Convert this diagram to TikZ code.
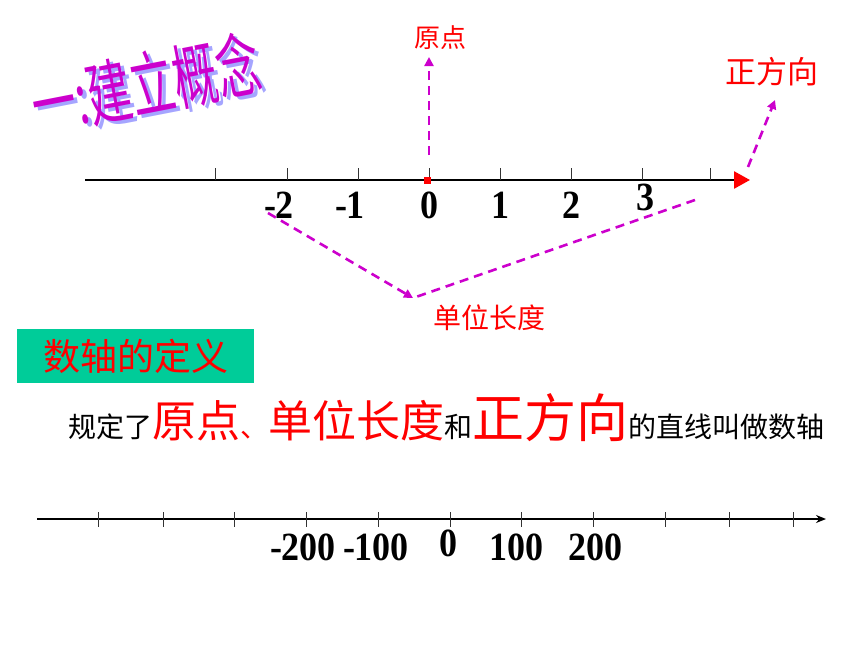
\documentclass[tikz,border=0pt]{standalone}
\usepackage{fontspec}
\setmainfont{Liberation Serif}
\newfontfamily\cjkfont{Noto Sans CJK SC}
\usepackage{xcolor}
\usepackage{tikz}
\usetikzlibrary{arrows.meta}

\definecolor{hintmag}{RGB}{204,0,204}
\definecolor{artpurple}{RGB}{204,0,204}
\definecolor{artshadow}{RGB}{165,165,255}
\definecolor{defgreen}{RGB}{0,204,153}
\newcommand{\zh}[1]{\cjkfont\fontsize{#1}{#1}\selectfont}

\begin{document}
\begin{tikzpicture}[
    x=1pt, y=-1pt,
    tick/.style={line width=1pt, black!80},
    numlbl/.style={font=\bfseries\fontsize{40}{40}\selectfont, xscale=0.9, inner sep=0pt},
    redlbl/.style={text=red, inner sep=0pt},
    hint/.style={hintmag, line width=2.6pt, dash pattern=on 9pt off 6pt, -{Triangle[length=9pt,width=9pt]}},
    wordart/.style={font=\zh{44}, rotate=11, yscale=1.6, inner sep=0pt}
]
    \useasboundingbox (0,0) rectangle (860,645);

    % --- Title ---
    \node[wordart, text=artshadow] (titleshadow) at (150,87) {一:建立概念};
    \node[wordart, text=artpurple] (title) at (146,84) {一:建立概念};

    % --- Top number line ---
    \coordinate (axL) at (85,180);
    \coordinate (axR) at (750,180);
    \draw[line width=2.6pt, -{Triangle[length=16pt,width=17pt,color=red]}] (axL) -- (axR);
    \foreach \x in {215,287,358,429,500,571,642,710}
        \draw[tick] (\x,168) -- (\x,180);
    \node[fill=red, minimum size=7pt, inner sep=0pt] (orig) at (427,180.5) {};

    \foreach \x/\t/\n in {279/-2/a, 350/-1/b, 429/0/c, 500/1/d, 571/2/e}
        \node[numlbl] (top\n) at (\x,205) {\t};
    \node[numlbl] (topf) at (645,197) {3};

    % --- Hints ---
    \node[redlbl, font=\zh{26}] (lblorig) at (440,38) {原点};
    \coordinate (origlow) at (429,155);
    \coordinate (orighigh) at (429,57);
    \draw[hint] (origlow) -- (orighigh);

    \node[redlbl, font=\zh{31}] (lbldir) at (772,72) {正方向};
    \coordinate (dirlow) at (748,167);
    \coordinate (dirhigh) at (775,100);
    \draw[hint] (dirlow) -- (dirhigh);

    \node[redlbl, font=\zh{28}] (lblunit) at (489,318) {单位长度};
    \coordinate (unitleft) at (268,213);
    \coordinate (unitright) at (695,200);
    \coordinate (unittip) at (413,298);
    \draw[hint] (unitleft) -- (unittip);
    \draw[hint, -] (unitright) -- (unittip);

    % --- Definition ---
    \node[fill=defgreen, minimum width=237pt, minimum height=54pt, inner sep=0pt,
          text=red, font=\zh{37}] (defbox) at (135.5,356) {数轴的定义};
    \node[anchor=base west, inner sep=0pt] (defline) at (68,437)
        {\zh{28}规定了{\color{red}\zh{44}原点\zh{28}、\zh{44}单位长度}和{\color{red}\zh{52}正方向}\zh{28}的直线叫做数轴};

    % --- Bottom number line ---
    \coordinate (bxL) at (37,519);
    \coordinate (bxR) at (826,519);
    \draw[line width=2.4pt, -{Stealth[length=10pt,width=8pt]}] (bxL) -- (bxR);
    \foreach \x in {98,163,234,306,378,450,521,593,665,729,793}
        \draw[tick] (\x,512) -- (\x,527);
    \foreach \x/\t/\n in {303/-200/a, 376/-100/b, 516/100/d, 595/200/e}
        \node[numlbl] (bot\n) at (\x,547) {\t};
    \node[numlbl] (botc) at (448,543) {0};

\end{tikzpicture}
\end{document}
